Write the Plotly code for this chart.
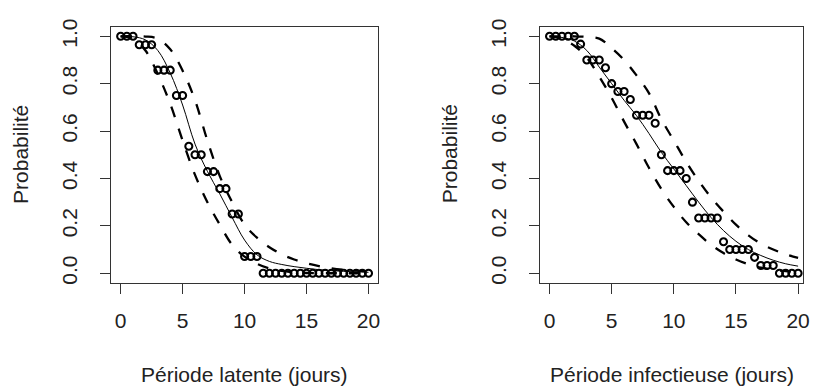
import plotly.graph_objects as go

# ---------------- data ----------------
step_x = [0, 0.5, 1, 1.5, 2, 2.5, 3, 3.5, 4, 4.5, 5, 5.5, 6, 6.5, 7, 7.5, 8, 8.5, 9, 9.5,
          10, 10.5, 11, 11.5, 12, 12.5, 13, 13.5, 14, 14.5, 15, 15.5, 16, 16.5, 17, 17.5,
          18, 18.5, 19, 19.5, 20]

latent_obs = [1, 1, 1, 0.964, 0.964, 0.964, 0.857, 0.857, 0.857, 0.75, 0.75, 0.536, 0.5, 0.5,
              0.429, 0.429, 0.357, 0.357, 0.25, 0.25, 0.071, 0.071, 0.071, 0, 0, 0, 0, 0, 0,
              0, 0, 0, 0, 0, 0, 0, 0, 0, 0, 0, 0]

infect_obs = [1, 1, 1, 1, 1, 0.967, 0.9, 0.9, 0.9, 0.867, 0.8, 0.767, 0.767, 0.733, 0.667,
              0.667, 0.667, 0.633, 0.5, 0.433, 0.433, 0.433, 0.4, 0.3, 0.233, 0.233, 0.233,
              0.233, 0.133, 0.1, 0.1, 0.1, 0.1, 0.067, 0.033, 0.033, 0.033, 0, 0, 0, 0]

curve_x = [0, 1, 2, 3, 4, 5, 6, 7, 8, 9, 10, 11, 12, 13, 14, 15, 16, 17, 18, 19, 20]

latent_fit = [1.0, 0.998, 0.985, 0.94, 0.845, 0.71, 0.545, 0.43, 0.335, 0.235, 0.14, 0.078,
              0.05, 0.037, 0.028, 0.021, 0.015, 0.011, 0.008, 0.006, 0.004]
latent_upper = [1.0, 1.0, 0.999, 0.99, 0.945, 0.855, 0.73, 0.56, 0.41, 0.30, 0.205, 0.15,
                0.11, 0.08, 0.058, 0.042, 0.03, 0.021, 0.015, 0.011, 0.008]
latent_lower = [1.0, 0.99, 0.94, 0.84, 0.715, 0.56, 0.415, 0.30, 0.205, 0.12, 0.07, 0.04,
                0.02, 0.01, 0.004, 0.001, 0.0, 0.0, 0.0, 0.0, 0.0]

infect_fit = [1.0, 0.995, 0.98, 0.94, 0.87, 0.80, 0.73, 0.665, 0.59, 0.51, 0.44, 0.37, 0.30,
              0.235, 0.18, 0.135, 0.10, 0.075, 0.055, 0.04, 0.03]
infect_upper = [1.0, 1.0, 1.0, 0.997, 0.99, 0.95, 0.90, 0.835, 0.76, 0.65, 0.56, 0.47, 0.39,
                0.32, 0.26, 0.205, 0.16, 0.125, 0.10, 0.08, 0.065]
infect_lower = [1.0, 0.99, 0.96, 0.91, 0.83, 0.74, 0.64, 0.545, 0.445, 0.355, 0.28, 0.215,
                0.165, 0.12, 0.085, 0.058, 0.038, 0.024, 0.015, 0.009, 0.005]

x_ticks = [0, 5, 10, 15, 20]
y_ticks = [0, 0.2, 0.4, 0.6, 0.8, 1.0]
y_ticktext = ["0.0", "0.2", "0.4", "0.6", "0.8", "1.0"]

x_titles = ["Période latente (jours)", "Période infectieuse (jours)"]
y_title = "Probabilité"

# ---------------- figure ----------------
FONT = "Liberation Sans, Arial, sans-serif"
W, H = 816, 388
fig = go.Figure()

panels = [
    ("x", "y", latent_obs, latent_fit, latent_upper, latent_lower),
    ("x2", "y2", infect_obs, infect_fit, infect_upper, infect_lower),
]
for xa, ya, obs, fit, up, lo in panels:
    for band in (up, lo):
        fig.add_trace(go.Scatter(x=curve_x, y=band, mode="lines", xaxis=xa, yaxis=ya,
                                 line=dict(color="black", width=2.3, dash="11px,12px",
                                           shape="spline", smoothing=1.0),
                                 hoverinfo="skip", showlegend=False))
    fig.add_trace(go.Scatter(x=curve_x, y=fit, mode="lines", xaxis=xa, yaxis=ya,
                             line=dict(color="black", width=1, shape="spline", smoothing=1.0),
                             showlegend=False))
    fig.add_trace(go.Scatter(x=step_x, y=obs, mode="markers", xaxis=xa, yaxis=ya,
                             marker=dict(symbol="circle-open", size=7, color="black",
                                         line=dict(width=2.1, color="black")),
                             showlegend=False))

y_dom = [1 - 282 / H, 1 - 19.3 / H]
x_doms = [[112.3 / W, 381.7 / W], [545 / W, 810 / W]]
x_ranges = [[-0.752, 20.8], [-0.742, 20.4]]

common_axis = dict(showgrid=False, zeroline=False, showline=True, linecolor="#333333",
                   linewidth=1, mirror=True, ticks="outside", ticklen=10, tickwidth=1,
                   tickcolor="#333333", tickfont=dict(family=FONT, size=21, color="#222222"))

for i, xd in enumerate(x_doms):
    sx = "" if i == 0 else "2"
    fig.update_layout(**{
        f"xaxis{sx}": dict(common_axis, domain=xd, range=x_ranges[i], tickvals=x_ticks,
                           anchor=f"y{sx}", ticklabelstandoff=9),
        f"yaxis{sx}": dict(common_axis, domain=y_dom, range=[-0.04, 1.04], tickvals=y_ticks,
                           ticktext=y_ticktext, tickangle=-90, anchor=f"x{sx}",
                           ticklabelstandoff=15),
    })

# axis titles as annotations
title_font = dict(family=FONT, size=21, color="#222222")
x_title_centers = [247, 677.5]
y_title_centers = [20, 453]
for i in range(2):
    fig.add_annotation(text=x_titles[i], xref="paper", yref="paper",
                       x=x_title_centers[i] / W, y=1 - 376 / H, showarrow=False,
                       xanchor="center", yanchor="middle", font=title_font)
    fig.add_annotation(text=y_title, xref="paper", yref="paper",
                       x=y_title_centers[i] / W, y=1 - 150 / H, showarrow=False,
                       textangle=-90, xanchor="center", yanchor="middle", font=title_font)

fig.update_layout(width=W, height=H, margin=dict(l=0, r=0, t=0, b=0),
                  paper_bgcolor="white", plot_bgcolor="white", showlegend=False)

fig.write_html("out.html", config={"displayModeBar": False},
               post_script="document.body.style.margin='0';document.body.style.overflow='hidden';")
